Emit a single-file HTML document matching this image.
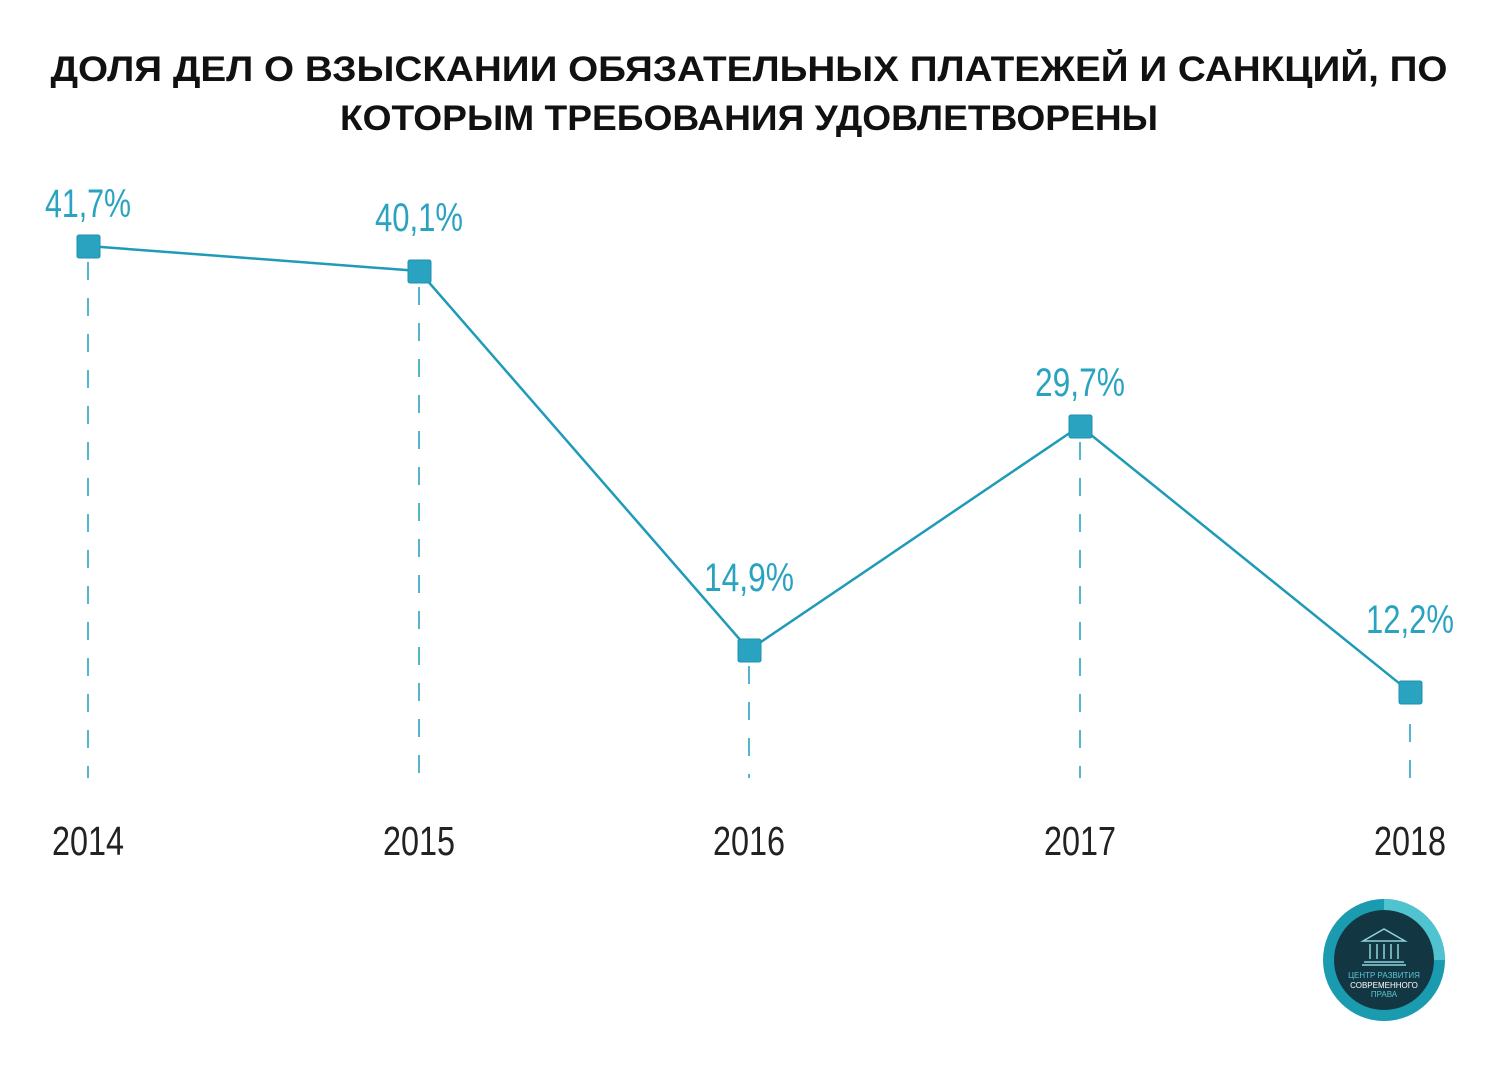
<!DOCTYPE html>
<html><head><meta charset="utf-8"><style>
html,body{margin:0;padding:0;background:#fff;}
svg{display:block;}
</style></head><body>
<svg width="1500" height="1069" viewBox="0 0 1500 1069" xmlns="http://www.w3.org/2000/svg">
<g font-family="'Liberation Sans', sans-serif" font-weight="bold" font-size="35" fill="#111" text-anchor="middle">
<text x="749" y="81" textLength="1397" lengthAdjust="spacingAndGlyphs">ДОЛЯ ДЕЛ О ВЗЫСКАНИИ ОБЯЗАТЕЛЬНЫХ ПЛАТЕЖЕЙ И САНКЦИЙ, ПО</text>
<text x="749" y="130" textLength="818" lengthAdjust="spacingAndGlyphs">КОТОРЫМ ТРЕБОВАНИЯ УДОВЛЕТВОРЕНЫ</text>
</g>
<g stroke="#2aa3c1" stroke-width="1.6" stroke-dasharray="18,18">
<line x1="88" y1="262" x2="88" y2="778"/>
<line x1="419" y1="287" x2="419" y2="778"/>
<line x1="749" y1="666" x2="749" y2="778"/>
<line x1="1080" y1="442" x2="1080" y2="778"/>
<line x1="1410" y1="724" x2="1410" y2="778"/>
</g>
<polyline points="88,246 419,271 749,650 1080,426 1410,692" fill="none" stroke="#1f9bb8" stroke-width="2.5"/>
<g fill="#2aa3c1" stroke="#1f92ad" stroke-width="1">
<rect x="77" y="235" width="23" height="23" rx="2"/>
<rect x="408" y="260" width="23" height="23" rx="2"/>
<rect x="738" y="639" width="23" height="23" rx="2"/>
<rect x="1069" y="415" width="23" height="23" rx="2"/>
<rect x="1399" y="681" width="23" height="23" rx="2"/>
</g>
<g font-family="'Liberation Sans Narrow','Liberation Sans', sans-serif" font-size="40" fill="#2aa3c1" text-anchor="middle">
<text x="88" y="217" textLength="86" lengthAdjust="spacingAndGlyphs">41,7%</text>
<text x="419" y="231" textLength="88" lengthAdjust="spacingAndGlyphs">40,1%</text>
<text x="749" y="591" textLength="90" lengthAdjust="spacingAndGlyphs">14,9%</text>
<text x="1080" y="396" textLength="90" lengthAdjust="spacingAndGlyphs">29,7%</text>
<text x="1410" y="633" textLength="88" lengthAdjust="spacingAndGlyphs">12,2%</text>
</g>
<g font-family="'Liberation Sans Narrow','Liberation Sans', sans-serif" font-size="41" fill="#222" text-anchor="middle">
<text x="88" y="855" textLength="72" lengthAdjust="spacingAndGlyphs">2014</text>
<text x="419" y="855" textLength="72" lengthAdjust="spacingAndGlyphs">2015</text>
<text x="749" y="855" textLength="72" lengthAdjust="spacingAndGlyphs">2016</text>
<text x="1080" y="855" textLength="72" lengthAdjust="spacingAndGlyphs">2017</text>
<text x="1410" y="855" textLength="72" lengthAdjust="spacingAndGlyphs">2018</text>
</g>
<g>
<circle cx="1384" cy="960" r="61" fill="#1a9bb0"/>
<path d="M1384 899 A61 61 0 0 1 1445 960 L1384 960 Z" fill="#4fc3cf"/>
<circle cx="1384" cy="960" r="50" fill="#133742"/>
<g stroke="#8fd3dc" stroke-width="1.5" fill="none">
<path d="M1363 941 L1384 929 L1405 941 Z"/>
<line x1="1370" y1="944" x2="1370" y2="959"/><line x1="1377" y1="944" x2="1377" y2="959"/>
<line x1="1384" y1="944" x2="1384" y2="959"/><line x1="1391" y1="944" x2="1391" y2="959"/>
<line x1="1398" y1="944" x2="1398" y2="959"/>
<line x1="1364" y1="962" x2="1404" y2="962"/><line x1="1362" y1="965" x2="1406" y2="965"/>
</g>
<g font-family="'Liberation Sans Narrow','Liberation Sans', sans-serif" font-size="8" text-anchor="middle">
<text x="1384" y="978" fill="#5cc6d3">ЦЕНТР РАЗВИТИЯ</text>
<text x="1384" y="988" fill="#fff">СОВРЕМЕННОГО</text>
<text x="1384" y="997" fill="#5cc6d3">ПРАВА</text>
</g>
</g>
</svg>
</body></html>
